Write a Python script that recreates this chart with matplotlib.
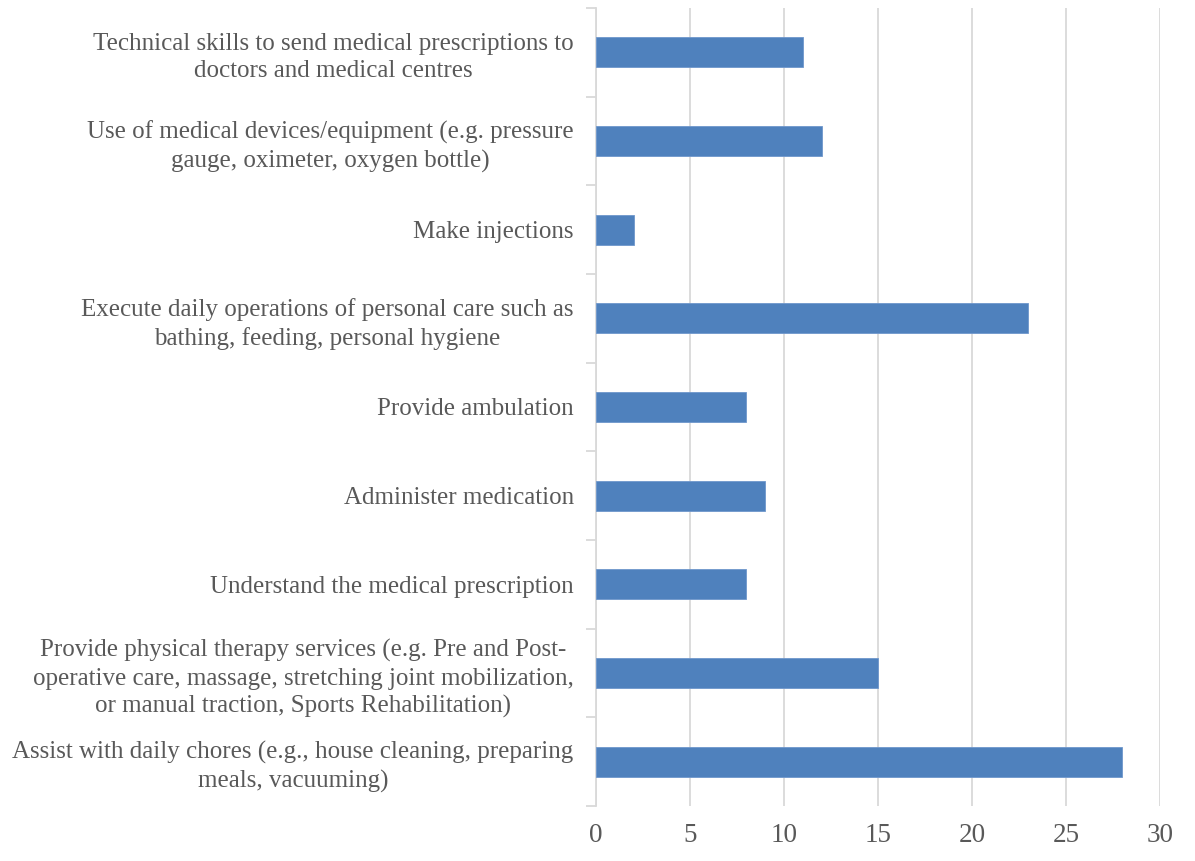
import matplotlib
matplotlib.use('Agg')
import matplotlib.pyplot as plt
import numpy as np

# skills, listed bottom to top
skills = [
    'Assist with daily chores (e.g., house cleaning, preparing\nmeals, vacuuming)',
    'Provide physical therapy services (e.g. Pre and Post-\noperative care, massage, stretching joint mobilization,\nor manual traction, Sports Rehabilitation)',
    'Understand the medical prescription',
    'Administer medication',
    'Provide ambulation',
    'Execute daily operations of personal care such as\nbathing, feeding, personal hygiene',
    'Make injections',
    'Use of medical devices/equipment (e.g. pressure\ngauge, oximeter, oxygen bottle)',
    'Technical skills to send medical prescriptions to\ndoctors and medical centres',
]
counts = [28, 15, 8, 9, 8, 23, 2, 12, 11]
x_ticks = [0, 5, 10, 15, 20, 25, 30]

plt.rcParams['font.family'] = ['Liberation Serif', 'DejaVu Serif']
text_col = '#595959'
grid_col = '#d9d9d9'

fig = plt.figure(figsize=(11.95, 8.61), dpi=100)
ax = fig.add_axes([0.4987, 0.0639, 0.4720, 0.9268])

y = np.arange(len(skills))
ax.barh(y, counts, height=0.34, color='#4f81bd', edgecolor='#6f97cc', linewidth=0.6, zorder=3)

ax.set_xlim(0, 30)
ax.set_ylim(-0.5, len(skills) - 0.5)
ax.set_xticks(x_ticks)
ax.set_xticklabels([str(v) for v in x_ticks])
ax.set_yticks(y)
ax.set_yticklabels(skills)
ax.set_yticks(np.arange(len(skills) + 1) - 0.5, minor=True)

ax.xaxis.grid(True, color=grid_col, linewidth=1.3, zorder=0)
ax.tick_params(axis='x', length=0, pad=12, labelsize=19.5, labelcolor=text_col)
ax.tick_params(axis='y', which='major', length=0, pad=16, labelsize=18, labelcolor=text_col)
ax.tick_params(axis='y', which='minor', length=7, width=1.3, color=grid_col)
for lbl in ax.get_yticklabels():
    lbl.set_multialignment('center')
    lbl.set_linespacing(1.33)

for side in ['top', 'right', 'bottom']:
    ax.spines[side].set_visible(False)
ax.spines['left'].set_color(grid_col)
ax.spines['left'].set_linewidth(1.3)

fig.savefig('out.png', dpi=100)
